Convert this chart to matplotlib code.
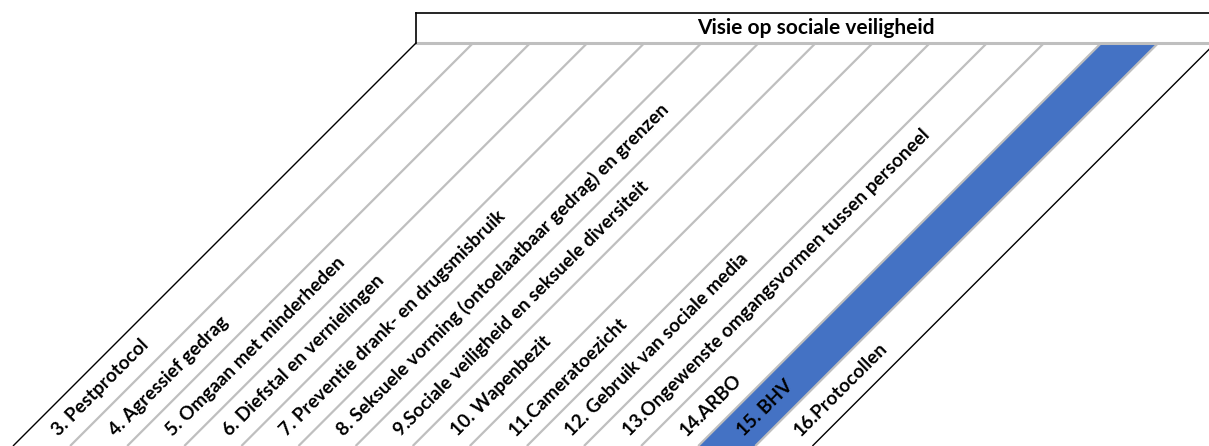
import numpy as np
import matplotlib
matplotlib.use('Agg')
import matplotlib.pyplot as plt
from matplotlib.transforms import Affine2D

# ---------------------------------------------------------
# DATA
# ---------------------------------------------------------

title = 'Visie op sociale veiligheid'

labels = ['3. Pestprotocol',
          '4. Agressief gedrag',
          '5. Omgaan met minderheden',
          '6. Diefstal en vernielingen',
          '7. Preventie drank- en drugsmisbruik',
          '8. Seksuele vorming (ontoelaatbaar gedrag) en grenzen',
          '9.Sociale veiligheid en seksuele diversiteit',
          '10. Wapenbezit',
          '11.Cameratoezicht',
          '12. Gebruik van sociale media',
          '13.Ongewenste omgangsvormen tussen personeel',
          '14.ARBO',
          '15. BHV',
          '16.Protocollen']

highlighted = ['15. BHV']

# ---------------------------------------------------------
# LAYOUT (pixel units, y up)
# ---------------------------------------------------------

W, H = 1209, 446
x0 = 13            # bottom-left corner of first column
col_w = 57.1       # column width
col_h = 403        # height of slanted part
head_h = 30        # header height

blue = '#4472C4'
grey = '#BFBFBF'
font = ['Lato', 'DejaVu Sans']

fig = plt.figure(figsize=(W / 100, H / 100), dpi=100)
ax = fig.add_axes([0, 0, 1, 1])
ax.set_xlim(0, W)
ax.set_ylim(0, H)
ax.axis('off')

# column space -> skewed pixel space (45 degrees)
skew = Affine2D().scale(col_w, 1).translate(x0, 0).skew_deg(45, 0) + ax.transData

n = len(labels)
idx = np.arange(n)

# highlighted columns
for i, lab in enumerate(labels):
    if lab in highlighted:
        ax.bar(i + 0.5, col_h, width=1, bottom=0, color=blue, transform=skew, zorder=1)

# inner grid lines
ax.vlines(idx[1:], 0, col_h, colors=grey, linewidth=1.6, transform=skew, zorder=2)
# outer borders
ax.vlines([0, n], 0, col_h, colors='black', linewidth=1.0, transform=skew, zorder=3)

# header box
xl = x0 + col_h
xr = x0 + n * col_w + col_h
ax.plot([xl, xr], [col_h + head_h, col_h + head_h], color='black', lw=1.2, zorder=3)
ax.plot([xl, xl], [col_h, col_h + head_h], color='black', lw=1.2, zorder=3)
ax.plot([xl, xr], [col_h, col_h], color=grey, lw=2.2, zorder=2)
ax.text((xl + xr) / 2, col_h + head_h / 2, title, ha='center', va='center',
        fontsize=15, fontweight='bold', family=font)

# labels
for i, lab in enumerate(labels):
    ax.text(i + 0.5, 13, lab, transform=skew, rotation=45, rotation_mode='anchor',
            ha='left', va='center', fontsize=13.6, fontweight='bold',
            family=font, zorder=4)

plt.savefig('out.png', dpi=100)
